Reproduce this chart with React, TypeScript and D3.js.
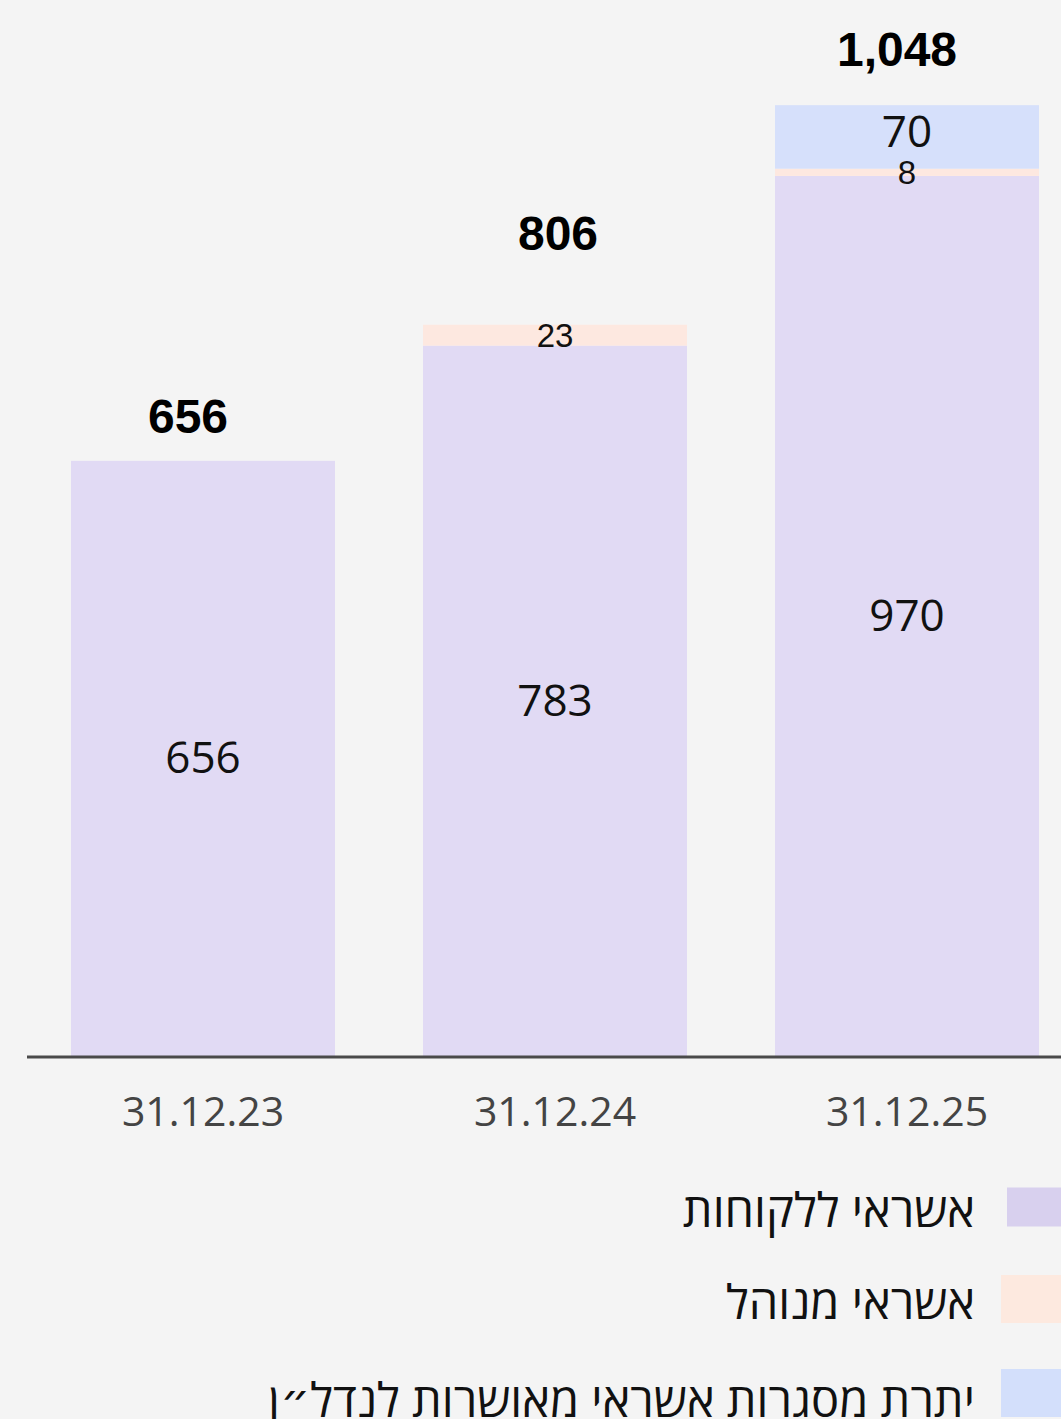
import * as React from 'react';
import * as d3 from 'd3';

const dates = ['31.12.23', '31.12.24', '31.12.25'];
const customerCredit = [656, 783, 970];
const managedCredit = [0, 23, 8];
const approvedFrames = [0, 0, 70];
const totals = [656, 806, 1048];

const seriesNames = ['אשראי ללקוחות', 'אשראי מנוהל', 'יתרת מסגרות אשראי מאושרות לנדל״ן'];
const seriesColors = ['#e1daf4', '#fde8e0', '#d6e0fb'];
const legendColors = ['#d8d0ee', '#fde9df', '#d3dffb'];

// hand placement of the total labels, as in the original
const totalShiftX = [-15, 3, -10];
const totalShiftY = [-28, -75, -39];

const W = 1061;
const H = 1419;
const baseY = 1056;

export default function App() {
    const x = d3.scaleBand<string>()
        .domain(dates)
        .range([27, 1083])
        .paddingInner(0.25)
        .paddingOuter(0.125);

    const y = d3.scaleLinear().domain([0, 1100]).range([baseY, 58]);

    const rows = dates.map((d, i) => ({
        date: d,
        customer: customerCredit[i],
        managed: managedCredit[i],
        frames: approvedFrames[i],
    }));
    const keys = ['customer', 'managed', 'frames'];
    const stacked = d3.stack<any>().keys(keys)(rows);

    const numFont = '"Open Sans", "DejaVu Sans", sans-serif';
    const arialFont = '"Liberation Sans", Arial, sans-serif';

    // flatten segments so labels can be drawn over every rect
    const segs = stacked.flatMap((layer, li) =>
        layer.map((seg, i) => ({ li, i, v: seg[1] - seg[0], top: y(seg[1]), bot: y(seg[0]) }))
    ).filter(s => s.v > 0);

    return (
        <svg width={W} height={H} style={{ position: 'absolute', left: 0, top: 0 }}>
            <rect width={W} height={H} fill="#f4f4f4" />

            {segs.map(s => (
                <rect
                    key={`r${s.li}-${s.i}`}
                    x={x(dates[s.i]) as number}
                    y={s.top}
                    width={x.bandwidth()}
                    height={s.bot - s.top}
                    fill={seriesColors[s.li]}
                />
            ))}

            {segs.map(s => {
                const small = s.v < 40;
                const big = s.v > 100;
                return (
                    <text
                        key={`t${s.li}-${s.i}`}
                        x={(x(dates[s.i]) as number) + x.bandwidth() / 2}
                        y={(s.top + s.bot) / 2}
                        dy={small ? '0.36em' : big ? '0.34em' : '0.22em'}
                        textAnchor="middle"
                        fontFamily={small ? arialFont : numFont}
                        fontSize={small ? 33 : 44}
                        fill="#111"
                    >
                        {s.v}
                    </text>
                );
            })}

            {totals.map((t, i) => (
                <text
                    key={i}
                    x={(x(dates[i]) as number) + x.bandwidth() / 2 + totalShiftX[i]}
                    y={y(t) + totalShiftY[i]}
                    textAnchor="middle"
                    fontFamily={arialFont}
                    fontWeight="bold"
                    fontSize={48}
                    fill="#000"
                >
                    {d3.format(',')(t)}
                </text>
            ))}

            <line x1={27} x2={W} y1={baseY + 1} y2={baseY + 1} stroke="#4a4a4a" strokeWidth={3} />

            {dates.map((d) => (
                <text
                    key={d}
                    x={(x(d) as number) + x.bandwidth() / 2}
                    y={1126}
                    textAnchor="middle"
                    fontFamily={numFont}
                    fontSize={41}
                    fill="#444"
                >
                    {d}
                </text>
            ))}

            {seriesNames.map((name, i) => {
                const cy = 1207 + i * 92;
                const size = i === 0 ? 39 : 48;
                return (
                    <g key={name}>
                        <rect x={i === 0 ? 1007 : 1001} y={cy - size / 2 + (i === 2 ? 2 : 0)} width={60} height={size} fill={legendColors[i]} />
                        <text
                            x={975}
                            y={cy + 20 + (i === 2 ? 6 : 0)}
                            textAnchor="end"
                            fontFamily={numFont}
                            fontSize={47}
                            fill="#111"
                        >
                            {name}
                        </text>
                    </g>
                );
            })}
        </svg>
    );
}
